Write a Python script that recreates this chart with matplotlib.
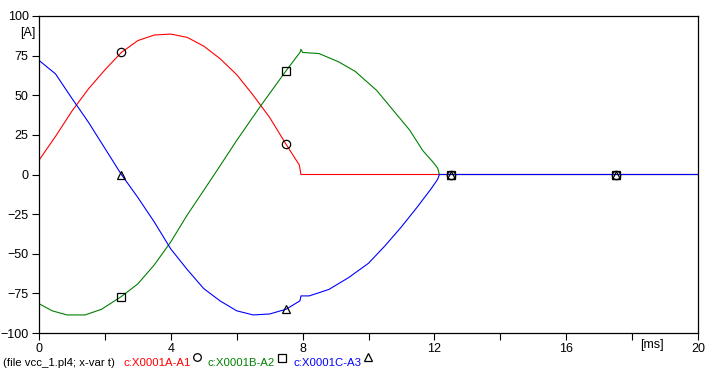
import numpy as np
import matplotlib
matplotlib.use("Agg")
import matplotlib.pyplot as plt
from matplotlib.lines import Line2D

plt.rcParams["font.family"] = ["Liberation Sans", "DejaVu Sans"]

# currents (time in ms, current in A)
t_a = [0, 0.5, 1, 1.5, 2, 2.5, 3, 3.5, 4, 4.5, 5, 5.5, 6, 6.5, 7, 7.5, 7.9, 7.95, 20]
i_a = [9, 24, 40, 54, 66, 77, 84.5, 88, 88.6, 86.5, 81, 73, 63, 50, 36, 19, 6, 0, 0]

t_b = [0, 0.4, 0.85, 1.4, 1.9, 2.5, 3, 3.5, 4, 4.5, 5, 5.4, 6, 6.7, 7.5, 7.92, 7.95, 8.0,
       8.5, 9.1, 9.6, 10.25, 10.75, 11.25, 11.65, 11.95, 12.1, 12.15, 20]
i_b = [-81.5, -86, -88.6, -88.6, -85, -77, -69, -57, -42.5, -25.5, -10, 2.5, 21.5, 42.5,
       65.5, 77, 79, 77, 76.3, 71, 65, 53, 40.5, 28, 15, 8, 4, 0, 0]

t_c = [0, 0.5, 1, 1.5, 2, 2.5, 3, 3.5, 4, 4.5, 5, 5.5, 6, 6.5, 7, 7.5, 7.92, 7.95, 8.2,
       8.8, 9.4, 10, 10.5, 11, 11.5, 11.9, 12.1, 12.15, 20]
i_c = [72, 63.5, 48, 33, 16.5, 0, -14.5, -30, -47, -60, -72, -79.8, -86, -88.6, -88, -85,
       -79.7, -76.6, -76.6, -72.5, -65, -56, -45, -33, -20, -9, -3, 0, 0]

mark_t = [2.5, 7.5, 12.5, 17.5]
names = ["c:X0001A-A1", "c:X0001B-A2", "c:X0001C-A3"]
colors = ["#ff0000", "#008000", "#0000ff"]
markers = ["o", "s", "^"]

fig = plt.figure(figsize=(7.16, 3.74), dpi=100)
ax = fig.add_axes([39 / 716, 1 - 333 / 374, 659 / 716, 317 / 374])

series = [(t_a, i_a), (t_b, i_b), (t_c, i_c)]
for (t, i), c in zip(series, colors):
    ax.plot(t, i, color=c, lw=0.8)
for (t, i), m in zip(series, markers):
    ax.plot(mark_t, np.interp(mark_t, t, i), ls="none", marker=m, ms=6,
            mfc="none", mec="black", mew=0.9, clip_on=False)

ax.set_xlim(0, 20)
ax.set_ylim(-100, 100)
ax.set_xticks(np.arange(0, 21, 4))
ax.set_xticks(np.arange(2, 20, 4), minor=True)
ax.set_yticks(np.arange(-100, 101, 25))
ax.tick_params(axis="both", which="both", direction="out", length=5, width=0.8,
               labelsize=9, pad=2.5)
for s in ax.spines.values():
    s.set_linewidth(0.9)

ax.text(-0.1, 89, "[A]", ha="right", va="center", fontsize=9, clip_on=False)
ax.text(18.6, -104, "[ms]", ha="center", va="top", fontsize=9, clip_on=False)

# legend line at the bottom
y_txt = 1 - 363 / 374
fig.text(3 / 716, y_txt, "(file vcc_1.pl4; x-var t)", fontsize=8.2, va="center")
txt_x = [123, 207, 293]
mk_x = [197, 282, 368]
mk_y = [357, 358, 357]
for name, c, m, xt, xm, ym in zip(names, colors, markers, txt_x, mk_x, mk_y):
    fig.text(xt / 716, y_txt, name, color=c, fontsize=8.2, va="center")
    fig.add_artist(Line2D([xm / 716], [1 - ym / 374], marker=m, ms=5.5, mfc="none",
                          mec="black", mew=0.9, ls="none", transform=fig.transFigure))

fig.savefig("out.png", dpi=100)
